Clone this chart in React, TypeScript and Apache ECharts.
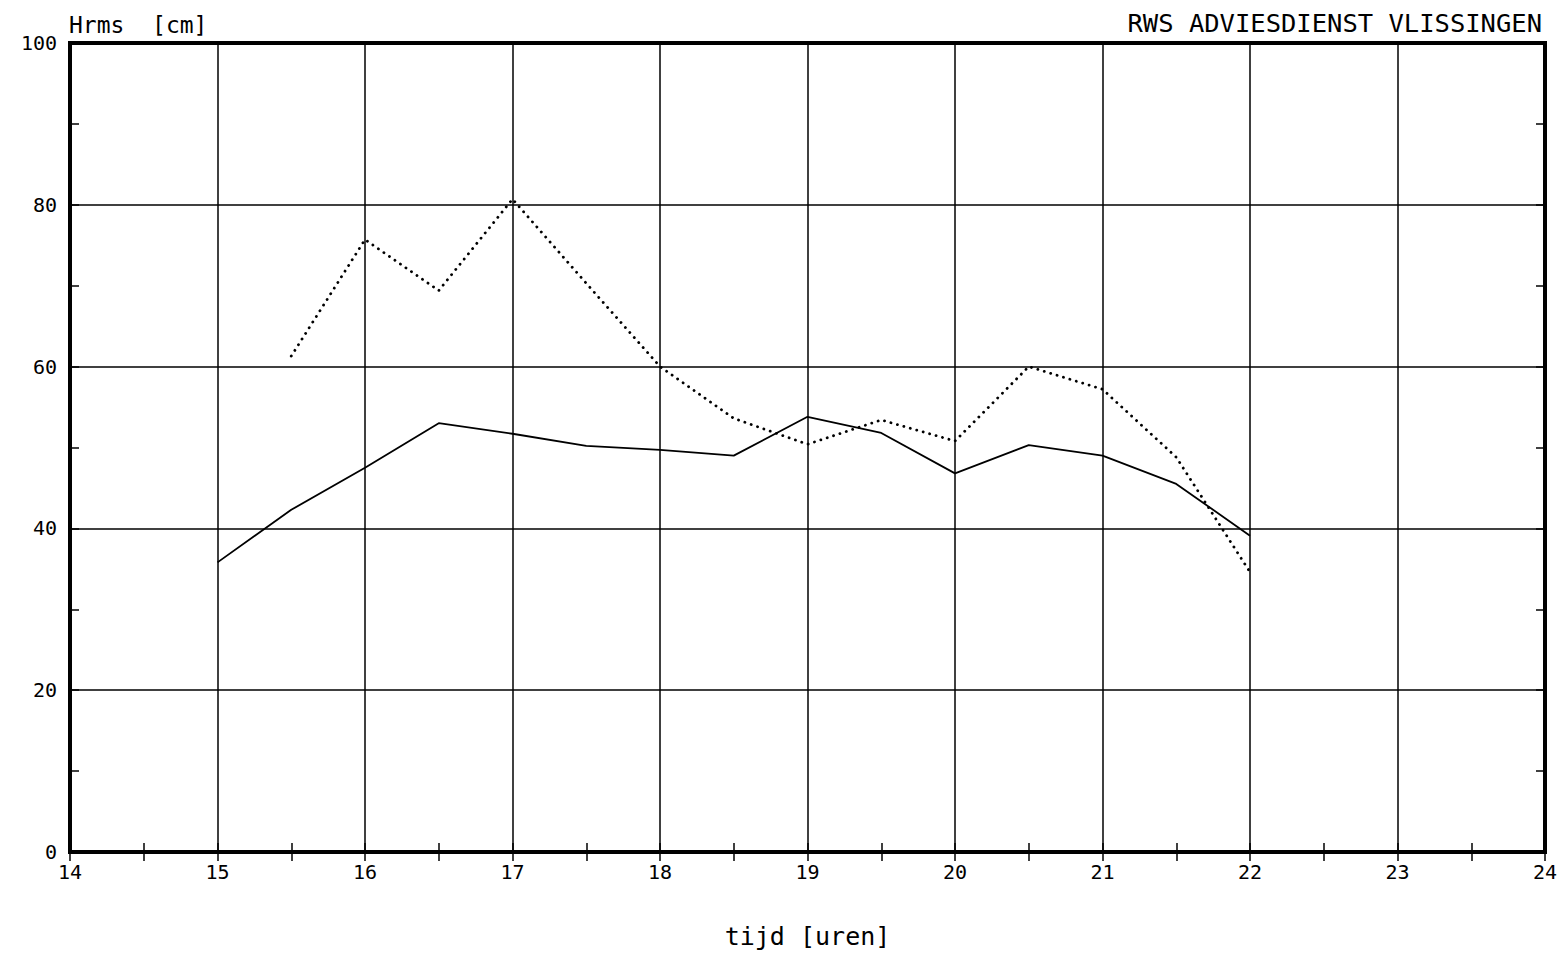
import React, { useEffect, useRef } from "react";
import * as echarts from "echarts";

const hours = [15, 15.5, 16, 16.5, 17, 17.5, 18, 18.5, 19, 19.5, 20, 20.5, 21, 21.5, 22];
const solidValues = [35.8, 42.3, 47.5, 53.0, 51.7, 50.2, 49.7, 49.0, 53.8, 51.8, 46.8, 50.3, 49.0, 45.5, 39.1];
const dottedHours = [15.5, 16, 16.5, 17, 17.5, 18, 18.5, 19, 19.5, 20, 20.5, 21, 21.5, 22];
const dottedValues = [61.3, 75.7, 69.4, 80.7, 70.3, 60.0, 53.6, 50.4, 53.4, 50.8, 60.0, 57.2, 48.8, 34.6];

const yTitle = "Hrms  [cm]";
const rightTitle = "RWS ADVIESDIENST VLISSINGEN";
const xTitle = "tijd [uren]";

const FONT = "'DejaVu Sans Mono', 'Liberation Mono', monospace";

export default function App() {
  const ref = useRef<HTMLDivElement>(null);
  useEffect(() => {
    if (!ref.current) return;
    const chart = echarts.init(ref.current, null, { renderer: "svg" });
    const solid = hours.map((h, i) => [h, solidValues[i]]);
    const dotted = dottedHours.map((h, i) => [h, dottedValues[i]]);
    const tickStyle = { show: true, inside: true, length: 9, lineStyle: { color: "#000", width: 1.5 } };
    const minor = { show: true, splitNumber: 2, length: 9, lineStyle: { color: "#000", width: 1.5 } };
    chart.setOption({
      animation: false,
      backgroundColor: "#fff",
      title: [
        { text: yTitle, left: 64, top: 8, textStyle: { fontFamily: FONT, fontSize: 23, fontWeight: "normal", color: "#000" } },
        { text: rightTitle, right: 16, top: 5, textStyle: { fontFamily: FONT, fontSize: 25.5, fontWeight: "normal", color: "#000" } },
      ],
      grid: { left: 70, right: 18, top: 43, bottom: 102, show: true, borderColor: "#000", borderWidth: 4, backgroundColor: "transparent" },
      xAxis: [
        {
          type: "value", min: 14, max: 24, interval: 1, position: "bottom",
          name: xTitle, nameLocation: "middle", nameGap: 72,
          nameTextStyle: { fontFamily: FONT, fontSize: 25, color: "#000" },
          axisLine: { show: true, lineStyle: { color: "#000", width: 4 } },
          axisTick: tickStyle, minorTick: minor,
          axisLabel: { fontFamily: FONT, fontSize: 20, color: "#000", margin: 10 },
          splitLine: { show: true, lineStyle: { color: "#000", width: 1.5 } },
        },
        {
          type: "value", min: 14, max: 24, interval: 1, position: "top",
          axisLine: { show: true, lineStyle: { color: "#000", width: 4 } },
          axisTick: tickStyle, minorTick: minor,
          axisLabel: { show: false }, splitLine: { show: false },
        },
      ],
      yAxis: [
        {
          type: "value", min: 0, max: 100, interval: 20, position: "left",
          axisLine: { show: true, lineStyle: { color: "#000", width: 4 } },
          axisTick: tickStyle, minorTick: minor,
          axisLabel: { fontFamily: FONT, fontSize: 20, color: "#000", margin: 13 },
          splitLine: { show: true, lineStyle: { color: "#000", width: 1.5 } },
        },
        {
          type: "value", min: 0, max: 100, interval: 20, position: "right",
          axisLine: { show: true, lineStyle: { color: "#000", width: 4 } },
          axisTick: tickStyle, minorTick: minor,
          axisLabel: { show: false }, splitLine: { show: false },
        },
      ],
      series: [
        {
          type: "line", data: solid, xAxisIndex: 0, yAxisIndex: 0, showSymbol: false, symbol: "none",
          lineStyle: { color: "#000", width: 1.8 },
        },
        {
          type: "line", data: dotted, xAxisIndex: 0, yAxisIndex: 0, showSymbol: false, symbol: "none",
          lineStyle: { color: "#000", width: 2.8, type: [0.1, 6.6], cap: "round" },
        },
      ],
    });
    return () => chart.dispose();
  }, []);
  return <div ref={ref} style={{ position: "fixed", left: 0, top: 0, width: 1563, height: 954 }} />;
}
